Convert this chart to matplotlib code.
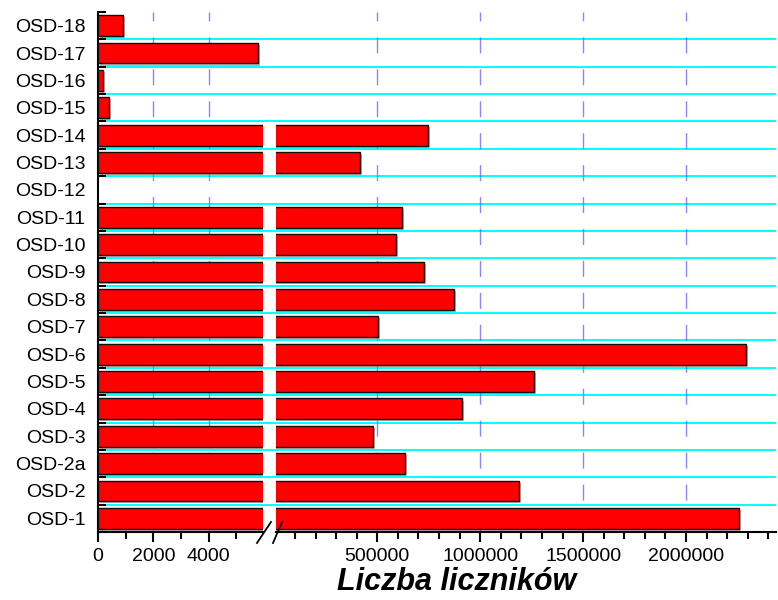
import matplotlib
matplotlib.use("Agg")
import matplotlib.pyplot as plt
import matplotlib.patheffects as pe
from matplotlib.lines import Line2D
import numpy as np

plt.rcParams['font.family'] = ['Liberation Sans', 'DejaVu Sans']

# data, bottom row first
categories = ['OSD-1', 'OSD-2', 'OSD-2a', 'OSD-3', 'OSD-4', 'OSD-5', 'OSD-6',
              'OSD-7', 'OSD-8', 'OSD-9', 'OSD-10', 'OSD-11', 'OSD-12', 'OSD-13',
              'OSD-14', 'OSD-15', 'OSD-16', 'OSD-17', 'OSD-18']
counts = [2257000, 1188000, 633000, 479000, 911000, 1260000, 2291000,
          502000, 874000, 725000, 591000, 621000, 0, 415000,
          745000, 400, 180, 5800, 890]
left_ticks = [0, 2000, 4000]
right_ticks = [500000, 1000000, 1500000, 2000000]
xlabel = 'Liczba liczników'

W, H = 778, 600
fig = plt.figure(figsize=(W / 100, H / 100), dpi=100)


def fx(px):
    return px / W


def fy(py):
    return 1 - py / H


top, bottom = 12, 532
x_left, x_break_l, x_break_r, x_right = 98, 263, 276, 776
left_max, right_min, right_max = 5970, 7800, 2437300

ypos = np.arange(len(categories))
n = len(categories)
vals = np.array(counts, dtype=float)

# background axes for the cyan row separators (they run through the gap)
bg = fig.add_axes([fx(x_left), fy(bottom), fx(x_right - x_left), (bottom - top) / H])
bg.set_xlim(0, 1)
bg.set_ylim(-0.5, n - 0.5)
bg.axis('off')
for b in np.arange(0.5, n - 1, 1.0):
    bg.axhline(b, color='#00ffff', lw=1.4, zorder=0)

ax1 = fig.add_axes([fx(x_left), fy(bottom), fx(x_break_l - x_left), (bottom - top) / H])
ax2 = fig.add_axes([fx(x_break_r), fy(bottom), fx(x_right - x_break_r), (bottom - top) / H])

shadow = [pe.SimplePatchShadow(offset=(1.5, -1.5), shadow_rgbFace='#888888', alpha=0.6), pe.Normal()]
# only draw the part of each bar that falls inside each segment
left_vals = np.where(vals > 0, vals, np.nan)
right_vals = np.where(vals > right_min, vals, np.nan)
for ax, v in ((ax1, left_vals), (ax2, right_vals)):
    ax.patch.set_alpha(0)
    ax.set_ylim(-0.5, n - 0.5)
    for s in ('top', 'right'):
        ax.spines[s].set_visible(False)
    ax.spines['bottom'].set_linewidth(1.5)
    ax.barh(ypos, v, height=0.76, color='#ff0000', edgecolor='#111111',
            linewidth=1.0, zorder=3, path_effects=shadow)

ax1.set_xlim(0, left_max)
ax2.set_xlim(right_min, right_max)

# vertical dashed grid
for ax, ticks in ((ax1, left_ticks[1:]), (ax2, right_ticks)):
    for t in ticks:
        ax.axvline(t, color='#5555ff', lw=1.0, ls=(0, (11.5, 11.5)), alpha=0.7, zorder=1)

# y axis: ticks at row boundaries, labels at row centres
ax1.spines['left'].set_linewidth(1.5)
ax1.set_yticks(np.arange(-0.5, n, 1.0))
ax1.set_yticklabels([])
ax1.set_yticks(ypos, minor=True)
ax1.set_yticklabels(categories, minor=True, fontsize=14)
ax1.tick_params(axis='y', which='major', direction='in', length=6, width=1.5)
ax1.tick_params(axis='y', which='minor', length=0, pad=9)

ax2.spines['left'].set_visible(False)
ax2.set_yticks([])

# x axes
ax1.set_xticks(left_ticks)
ax1.set_xticklabels([str(t) for t in left_ticks], fontsize=14)
ax1.set_xticks([1000, 3000, 5000], minor=True)
ax2.set_xticks(right_ticks)
ax2.set_xticklabels([str(t) for t in right_ticks], fontsize=14)
ax2.set_xticks(np.arange(100000, 2400001, 100000), minor=True)
for ax in (ax1, ax2):
    ax.tick_params(axis='x', which='major', direction='out', length=7.5, width=1.5, pad=4)
    ax.tick_params(axis='x', which='minor', direction='out', length=5, width=1.5)

# break marks
for (xa, ya, xb, yb) in [(257, 543, 271, 522), (273, 543, 282, 522)]:
    fig.add_artist(Line2D([fx(xa), fx(xb)], [fy(ya), fy(yb)], color='black', lw=1.3))

fig.text(fx(457), fy(582), xlabel, ha='center', va='center', fontsize=22,
         fontweight='bold', fontstyle='italic')

fig.savefig('out.png', dpi=100)
